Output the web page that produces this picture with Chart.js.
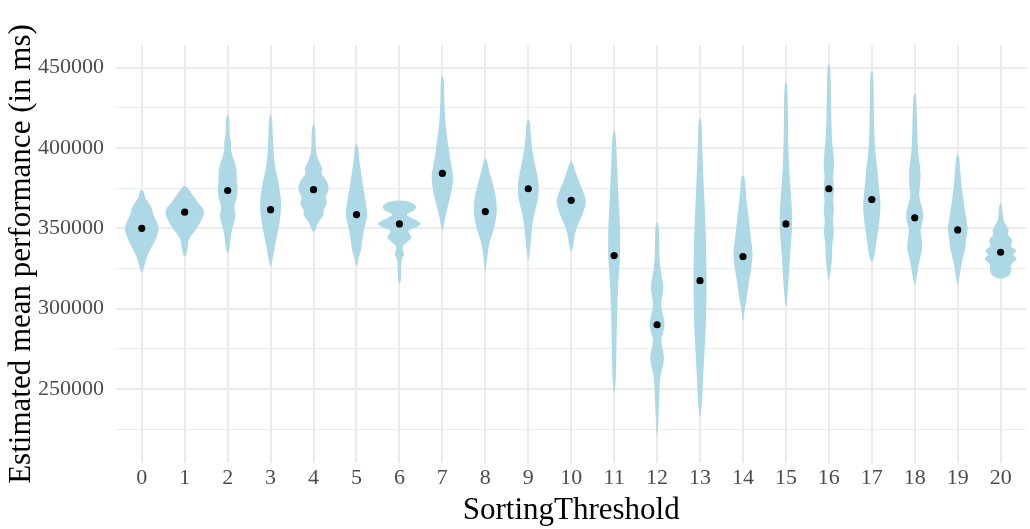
<!DOCTYPE html>
<html>
<head>
<meta charset="utf-8">
<script src="https://cdn.jsdelivr.net/npm/chart.js@4.4.0/dist/chart.umd.min.js"></script>
<style>
  body { margin: 0; background: #fff; }
</style>
</head>
<body>
<canvas id="violinChart" width="1030" height="529"></canvas>
<script>
// SortingThreshold categories
var thresholds = [0, 1, 2, 3, 4, 5, 6, 7, 8, 9, 10, 11, 12, 13, 14, 15, 16, 17, 18, 19, 20];

// mean of the estimated performance (black dots)
var means = [350000, 360000, 373500, 361600, 374000, 358500, 352700, 384100, 360400, 374600,
             367400, 333000, 290000, 317400, 332400, 352700, 374600, 367900, 356500, 349000, 335100];

// y grid: labelled ticks and the minor lines between them
var yTicks = [250000, 300000, 350000, 400000, 450000];
var yMinorTicks = [225000, 275000, 325000, 375000, 425000];

// violin outlines: performance levels (top to bottom) and density half-width at each level
var violinValues = [
  [374000,373000,370000,368000,365000,363000,359000,355000,350000,346000,342000,336000,330000,325000,322000],
  [377000,374000,369000,365000,362000,358000,355000,352000,348000,345000,341000,336000,331000],
  [421000,419000,408000,403000,398000,392000,386000,380000,373000,367000,363000,358000,353000,347000,338000,333000],
  [421000,419000,398000,388000,380000,369000,360000,350000,342000,334000,324000],
  [415000,413000,398000,394000,390000,387000,384000,380000,374000,369000,366000,361000,358000,354000,350000,347000],
  [403000,401000,392000,386000,378000,371000,364000,358000,354000,349000,340000,336000,332000,324000],
  [367500,366800,365500,363000,360500,358500,356000,353000,350500,348500,346000,344000,341500,339000,336500,334000,332000,329500,317500,315000],
  [445000,443000,423000,414000,403000,392000,385000,380000,371500,363000,355000,346000],
  [394000,392000,387000,382000,371500,361000,350500,344000,340000,332000,320000],
  [418000,416000,405000,394000,384000,375500,367000,359000,350500,338000,328000],
  [392000,390000,386000,382000,377500,373500,367000,361000,356500,353000,346500,339000,335000],
  [411000,409000,392000,375500,361000,348500,333000,324000,313000,292000,272000,255000,245000],
  [354000,352000,333000,324000,317500,313000,307000,302000,295500,290000,284000,280000,273500,268500,262500,257000,244500,236500,215500],
  [419000,417000,398000,378000,359000,342000,317500,292000,272000,251000,239500,230000],
  [383500,381500,373500,365000,358000,350500,342500,334000,328000,321500,315000,309000,300500,290000],
  [441500,439500,406000,395000,385000,370500,358000,349000,341000,329000,312000,298000],
  [452500,450500,424500,406000,397500,389000,382000,374500,367000,362000,354000,347500,341000,333000,324500,316000],
  [448300,446500,416000,405000,395000,387000,378500,364000,353500,347500,341000,333000,328000],
  [434000,432000,401500,392000,385000,376500,370500,364500,358000,351500,347500,339000,333000,329000,320500,313000],
  [396500,394500,384000,373500,363000,355000,349000,342500,338000,330000,321500,313000],
  [366000,364000,356000,353000,348500,346000,342500,339000,336000,333500,331000,328000,325000,321500,319500,318300]
];
var violinDensity = [
  [0,2,2.5,4,7,9,10,13,16,14,12,7,3.5,2,0],
  [0,4,9,13,17.5,17.5,15,13,9,5,3,2.5,0],
  [0,1.7,1.7,3.3,2.7,6,8.5,8,9.5,7.5,5.5,7.5,5.5,3,2,0],
  [0,1.5,2.5,4,6.7,9.5,9.5,7.3,4.7,2.7,0],
  [0,1.7,2,3.5,6,8.5,6.5,12,14.5,10,13,8.5,9.5,4,2.5,0],
  [0,1.5,2.5,4,5.5,7.3,9,10,8.5,6.7,4.7,4,2,0],
  [0,8,13,16,12,5,12,21,15,7,10,11.5,7,2.7,3,4.7,3,1.5,1.5,0],
  [0,1.5,2,3,5,7.3,9.5,10,8,4.7,2,0],
  [0,1.7,3,5,9.3,11,8.3,5,3.3,1.7,0],
  [0,1.7,2.5,4.7,8,10,8.7,5.3,3.3,2,0],
  [0,2,3.5,5.5,8,10.5,14,11.5,9,6.5,3,2,0],
  [0,1.5,2.5,3.5,4.5,5.5,5.5,4.5,3.5,2.5,2,1.5,0],
  [0,1.7,2,3,5,6,4.5,3.3,5.5,7.3,5,3.3,5.5,6.7,4.5,2.7,2,1.5,0],
  [0,1.5,2,3.3,4.5,5.5,6,5.5,4,2.3,1.7,0],
  [0,1.7,2.5,3.5,5,6,7.5,9,8,6.7,5,4,1.7,0],
  [0,1.5,2,2.5,3,4.7,5.7,5.5,4.7,3.3,2,0],
  [0,1.5,2,2.7,4,5,3.5,5,3.5,5,3.3,5,3,3,2,0],
  [0,1.5,2,2.5,3.5,5,6,8.3,6.7,5.5,4,2.7,0],
  [0,1.5,2.5,4,5.5,5,3.5,6,8.5,6,5,7.5,5.5,4,2,0],
  [0,1.5,2.5,4,6,8,9.3,7.3,7.3,4,2,0],
  [0,1.5,2,4,8,6,11.5,8,15.5,10,16,9,10,9,5,0]
];

var densityScale = 1 / 39; // density unit -> category units
var serif = "'Liberation Serif', 'Times New Roman', serif";

// draws the violins behind the mean points, using the chart scales
var violinPlugin = {
  id: 'violins',
  beforeDatasetsDraw: function(chart) {
    var ctx = chart.ctx;
    var xs = chart.scales.x, ys = chart.scales.y;
    ctx.save();
    ctx.fillStyle = '#add8e6';
    for (var i = 0; i < thresholds.length; i++) {
      var vals = violinValues[i], dens = violinDensity[i];
      var right = [], left = [];
      for (var j = 0; j < vals.length; j++) {
        var py = ys.getPixelForValue(vals[j]);
        right.push([xs.getPixelForValue(thresholds[i] + dens[j] * densityScale), py]);
        left.push([xs.getPixelForValue(thresholds[i] - dens[j] * densityScale), py]);
      }
      left.reverse();
      var pts = right.concat(left.slice(1, -1));
      var n = pts.length;
      ctx.beginPath();
      ctx.moveTo((pts[n - 1][0] + pts[0][0]) / 2, (pts[n - 1][1] + pts[0][1]) / 2);
      for (var k = 0; k < n; k++) {
        var p = pts[k], q = pts[(k + 1) % n];
        ctx.quadraticCurveTo(p[0], p[1], (p[0] + q[0]) / 2, (p[1] + q[1]) / 2);
      }
      ctx.closePath();
      ctx.fill();
    }
    ctx.restore();
  }
};

var ctx = document.getElementById('violinChart').getContext('2d');
var chart = new Chart(ctx, {
  type: 'scatter',
  data: {
    datasets: [{
      label: 'mean',
      data: thresholds.map(function(t, i) { return { x: t, y: means[i] }; }),
      pointRadius: 3.6,
      pointHoverRadius: 3.6,
      pointBackgroundColor: '#000',
      pointBorderWidth: 0,
      showLine: false
    }]
  },
  options: {
    responsive: false,
    animation: false,
    layout: { padding: { top: 45, right: -8, bottom: 0, left: 0 } },
    plugins: {
      legend: { display: false },
      tooltip: { enabled: false }
    },
    scales: {
      x: {
        type: 'linear',
        min: -0.6,
        max: 20.6,
        border: { display: false },
        grid: { color: '#ebebeb', lineWidth: 2, drawTicks: false },
        ticks: {
          stepSize: 1,
          includeBounds: false,
          autoSkip: false,
          maxRotation: 0,
          padding: 2,
          color: '#4d4d4d',
          font: { family: serif, size: 22 }
        },
        title: {
          display: true,
          text: 'SortingThreshold',
          color: '#000',
          padding: 0,
          font: { family: serif, size: 31 }
        },
        afterFit: function(scale) { scale.height = 66; }
      },
      y: {
        min: 204000,
        max: 464000,
        border: { display: false },
        afterBuildTicks: function(scale) {
          scale.ticks = yMinorTicks.concat(yTicks).sort(function(a, b) { return a - b; })
            .map(function(v) { return { value: v }; });
        },
        grid: {
          color: '#ebebeb',
          lineWidth: function(c) { return c.tick && yTicks.indexOf(c.tick.value) >= 0 ? 2 : 1; },
          drawTicks: false
        },
        ticks: {
          autoSkip: false,
          padding: 12,
          color: '#4d4d4d',
          font: { family: serif, size: 22 },
          callback: function(v) { return yTicks.indexOf(v) >= 0 ? String(v) : ''; }
        },
        title: {
          display: true,
          text: 'Estimated mean performance (in ms)',
          color: '#000',
          padding: { top: 3, bottom: 0 },
          font: { family: serif, size: 31 }
        },
        afterFit: function(scale) { scale.width = 116; }
      }
    }
  },
  plugins: [violinPlugin]
});
</script>
</body>
</html>
